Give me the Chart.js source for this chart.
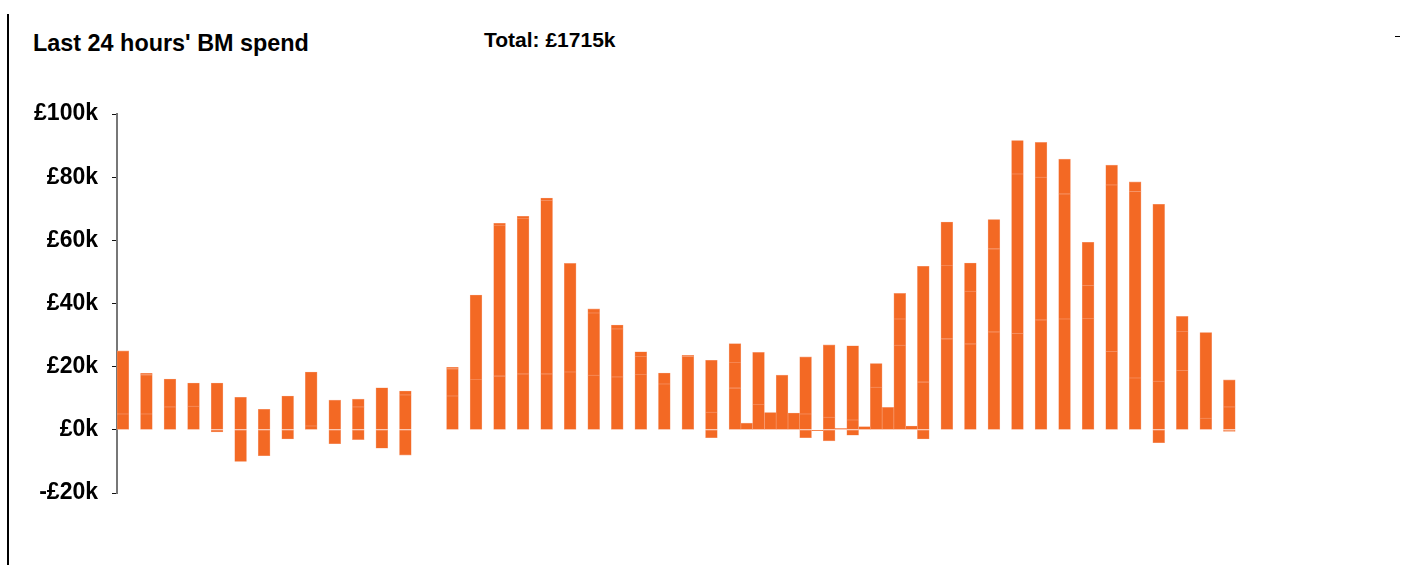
<!DOCTYPE html>
<html lang="en">
<head>
<meta charset="utf-8">
<title>Last 24 hours' BM spend</title>
<script src="https://cdn.jsdelivr.net/npm/chart.js@4.4.1/dist/chart.umd.min.js"></script>
<style>
  html, body { margin: 0; padding: 0; background: #fff; }
  #wrap { position: relative; width: 1401px; height: 565px; overflow: hidden; font-family: "Liberation Sans", Arial, sans-serif; }
  #frame-left { position: absolute; left: 7px; top: 14px; width: 2px; height: 551px; background: #000; }
  #frame-dash { position: absolute; left: 1395px; top: 36px; width: 5px; height: 1px; background: #000; }
  #titulo { position: absolute; left: 33px; top: 32px; font-size: 23.4px; line-height: 23px; font-weight: bold; color: #000; white-space: nowrap; }
  #total { position: absolute; left: 484px; top: 30px; font-size: 21px; line-height: 20px; font-weight: bold; color: #000; white-space: nowrap; }
  #grafico { position: absolute; left: 0; top: 0; }
</style>
</head>
<body>
<div id="wrap">
  <div id="frame-left"></div>
  <div id="frame-dash"></div>
  <div id="titulo">Last 24 hours' BM spend</div>
  <div id="total">Total: £1715k</div>
  <canvas id="grafico" width="1401" height="565"></canvas>
</div>
<script>
// Half-hourly settlement periods over the last 24 hours
const periodos = []
for (let h = 0; h < 24; h++) {
  const hh = String(h).padStart(2, '0')
  periodos.push(hh + ':00', hh + ':30')
}

// Spend per period (£k), stacked segments of the main bar
const tramo1 = [5, 5, 7.2, 7.5, 14.8, 10.3, 6.5, 10.7, 1.2, 9.4, 7.2, 13.3, 11.0, null,
  10.7, 16.0, 17.0, 17.7, 17.7, 18.3, 17.3, 16.7, 17.6, 14.5, 23.2, 5.6,
  13.2, 8.1, 17.3, 5.0, 4.0, 3.1, 13.5, 26.8, 15.1, 28.8,
  27.2, 31.0, 30.4, 34.8, 35.1, 35.3, 24.7, 16.4, 15.4, 18.7, 3.7, 7.2]
const tramo2 = [20, 12.4, 8.9, 7.3, null, null, null, null, 17.1, null, 2.5, null, 1.3, null,
  8.6, 26.7, 47.8, 49.3, 54.8, 34.4, 19.7, 15.2, 5.7, 3.5, 0.4, 16.4,
  8.2, 16.4, null, 18.1, 22.9, 23.5, 7.5, 8.3, 36.7, 23.3,
  16.7, 26.3, 50.6, 45.2, 39.6, 10.3, 52.8, 59.1, 56.0, 12.5, 27.1, 8.6]
const tramo3 = [null, 0.5, null, null, null, null, null, null, null, null, null, null, null, null,
  0.5, null, 0.6, 0.6, 0.9, null, 1.3, 1.3, 1.4, null, null, null,
  5.9, null, null, null, null, null, null, 8.1, null, 13.7,
  8.9, 9.3, 10.6, 11.0, 11.0, 13.8, 6.3, 3.0, null, 4.7, null, null]
const negativo = [null, null, null, null, -0.7, -10.0, -8.2, -2.9, null, -4.4, -3.1, -5.8, -8.0, null,
  null, null, null, null, null, null, null, null, null, null, null, -2.5,
  null, null, null, -2.5, -3.5, -1.7, null, null, -2.9, null,
  null, null, null, null, null, null, null, null, -4.1, null, null, -0.5]
// Second, smaller bar next to the main one
const lateral = [null, null, null, null, null, null, null, null, null, null, null, null, null, null,
  null, null, null, null, null, null, null, null, null, null, null, null,
  2.1, 5.5, 5.3, -0.3, 0.5, 1.0, 7.1, 1.2, null, null,
  null, null, null, null, null, null, null, null, null, null, null, null]

const ticksY = [-20, 0, 20, 40, 60, 80, 100]

const naranja = '#f36924'
const borde = '#f7a27c'

function serie(label, data, stack) {
  return {
    label: label,
    data: data,
    stack: stack,
    backgroundColor: naranja,
    borderColor: borde,
    borderWidth: 0.6,
    borderSkipped: false,
    categoryPercentage: 1,
    barPercentage: 1,
  }
}

const ctx = document.getElementById('grafico').getContext('2d')
new Chart(ctx, {
  type: 'bar',
  data: {
    labels: periodos,
    datasets: [
      serie('Segment 1', tramo1, 'main'),
      serie('Segment 2', tramo2, 'main'),
      serie('Segment 3', tramo3, 'main'),
      serie('Negative', negativo, 'main'),
      serie('Other', lateral, 'side'),
    ],
  },
  options: {
    responsive: false,
    animation: false,
    layout: { padding: { left: 0, top: 114, right: 154, bottom: 72 } },
    plugins: {
      legend: { display: false },
      title: { display: false },
      tooltip: {
        callbacks: { label: (c) => c.dataset.label + ': £' + c.parsed.y + 'k' },
      },
    },
    scales: {
      x: {
        stacked: true,
        display: false,
        grid: { display: false },
      },
      y: {
        stacked: true,
        min: -20,
        max: 100,
        afterFit: (scale) => { scale.width = 117 },
        afterBuildTicks: (scale) => { scale.ticks = ticksY.map((v) => ({ value: v })) },
        border: { display: true, color: '#777', width: 2 },
        grid: { display: true, drawOnChartArea: false, drawTicks: true, tickLength: 5, color: '#111' },
        ticks: {
          padding: 14,
          color: '#000',
          font: { family: '"Liberation Sans", Arial, sans-serif', size: 23, weight: 'bold' },
          callback: (v) => (v < 0 ? '-£' + Math.abs(v) : '£' + v) + 'k',
        },
      },
    },
  },
})
</script>
</body>
</html>
